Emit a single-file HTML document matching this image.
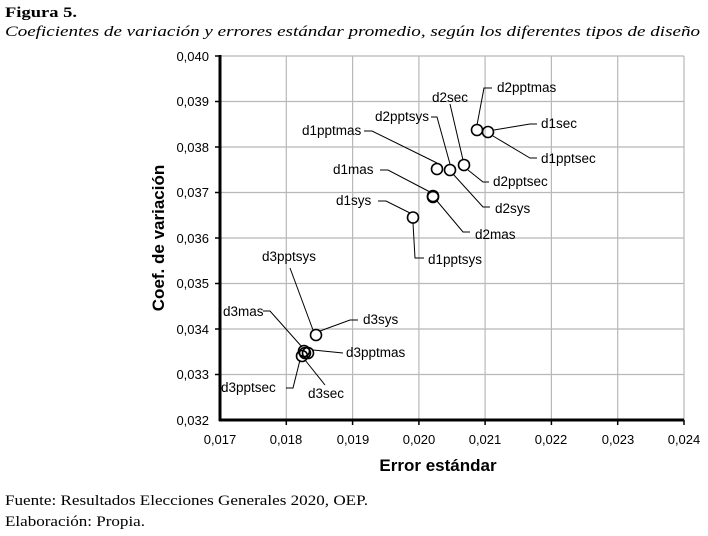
<!DOCTYPE html>
<html><head><meta charset="utf-8"><style>
body{margin:0;background:#fff;width:708px;height:536px;overflow:hidden}
svg{display:block}
</style></head><body>
<svg width="708" height="536" xmlns="http://www.w3.org/2000/svg">
<g font-family="Liberation Serif, serif" font-size="15" fill="#000">
<text x="5" y="17" font-weight="bold" textLength="72" lengthAdjust="spacingAndGlyphs">Figura 5.</text>
<text x="5" y="36" font-style="italic" textLength="695" lengthAdjust="spacingAndGlyphs">Coeficientes de variación y errores estándar promedio, según los diferentes tipos de diseño</text>
<text x="5" y="505" textLength="363" lengthAdjust="spacingAndGlyphs">Fuente: Resultados Elecciones Generales 2020, OEP.</text>
<text x="5" y="526" textLength="140" lengthAdjust="spacingAndGlyphs">Elaboración: Propia.</text>
</g>
<g stroke="#b8b8b8" stroke-width="1.2">
<line x1="220" y1="101.5" x2="684" y2="101.5"/><line x1="220" y1="147" x2="684" y2="147"/>
<line x1="220" y1="192.5" x2="684" y2="192.5"/><line x1="220" y1="238" x2="684" y2="238"/>
<line x1="220" y1="283.5" x2="684" y2="283.5"/><line x1="220" y1="329" x2="684" y2="329"/>
<line x1="220" y1="374.5" x2="684" y2="374.5"/><line x1="220" y1="56" x2="684" y2="56"/>
<line x1="286.3" y1="56" x2="286.3" y2="420"/><line x1="352.6" y1="56" x2="352.6" y2="420"/>
<line x1="418.9" y1="56" x2="418.9" y2="420"/><line x1="485.1" y1="56" x2="485.1" y2="420"/>
<line x1="551.4" y1="56" x2="551.4" y2="420"/><line x1="617.7" y1="56" x2="617.7" y2="420"/>
<line x1="684" y1="56" x2="684" y2="420"/>
</g>
<g stroke="#000" stroke-width="3"><line x1="220" y1="55" x2="220" y2="421"/><line x1="219" y1="420" x2="684" y2="420"/></g>
<g stroke="#000" stroke-width="1.5">
<line x1="215" y1="56" x2="220" y2="56"/><line x1="215" y1="101.5" x2="220" y2="101.5"/><line x1="215" y1="147" x2="220" y2="147"/><line x1="215" y1="192.5" x2="220" y2="192.5"/><line x1="215" y1="238" x2="220" y2="238"/><line x1="215" y1="283.5" x2="220" y2="283.5"/><line x1="215" y1="329" x2="220" y2="329"/><line x1="215" y1="374.5" x2="220" y2="374.5"/>
<line x1="286.3" y1="420" x2="286.3" y2="425"/><line x1="352.6" y1="420" x2="352.6" y2="425"/><line x1="418.9" y1="420" x2="418.9" y2="425"/><line x1="485.1" y1="420" x2="485.1" y2="425"/><line x1="551.4" y1="420" x2="551.4" y2="425"/><line x1="617.7" y1="420" x2="617.7" y2="425"/><line x1="684" y1="420" x2="684" y2="425"/>
</g>
<g font-family="Liberation Sans, sans-serif" font-size="13" fill="#000" text-anchor="end">
<text x="209" y="61">0,040</text><text x="209" y="106">0,039</text><text x="209" y="152">0,038</text><text x="209" y="197">0,037</text><text x="209" y="243">0,036</text><text x="209" y="288">0,035</text><text x="209" y="334">0,034</text><text x="209" y="379">0,033</text><text x="209" y="425">0,032</text>
</g>
<g font-family="Liberation Sans, sans-serif" font-size="13" fill="#000" text-anchor="middle">
<text x="220" y="444">0,017</text><text x="286" y="444">0,018</text><text x="353" y="444">0,019</text><text x="419" y="444">0,020</text><text x="485" y="444">0,021</text><text x="551" y="444">0,022</text><text x="618" y="444">0,023</text><text x="684" y="444">0,024</text>
</g>
<text x="438" y="471" font-family="Liberation Sans, sans-serif" font-size="17" font-weight="bold" text-anchor="middle">Error estándar</text>
<text transform="translate(164,238) rotate(-90)" font-family="Liberation Sans, sans-serif" font-size="17" font-weight="bold" text-anchor="middle">Coef. de variación</text>
<g stroke="#000" stroke-width="1" fill="none">
<polyline points="477,125 484,88 492,88"/>
<polyline points="450,104 463,160"/>
<polyline points="431,117 437,117 450,164"/>
<polyline points="364,131 372,131 437,163"/>
<polyline points="494,130 530,124 537,124"/>
<polyline points="493,136 530,158 537,158"/>
<polyline points="468,170 483,182 489,182"/>
<polyline points="380,170 388,170 430,192"/>
<polyline points="453,174 483,207 490,207"/>
<polyline points="378,201 386,201 410,213"/>
<polyline points="437,201 463,232 470,232"/>
<polyline points="413,223 415,258 424,258"/>
<polyline points="290,268 313,330"/>
<polyline points="320,331 350,320 358,320"/>
<polyline points="263,311 270,311 302,347"/>
<polyline points="313,350 343,353"/>
<polyline points="286,388 293,388 300,360"/>
<polyline points="305,360 325,385"/>
</g>
<g stroke="#000" stroke-width="1.6" fill="none">
<circle cx="477" cy="130" r="5.5"/><circle cx="488" cy="132" r="5.5"/><circle cx="464" cy="165" r="5.5"/>
<circle cx="437" cy="169" r="5.5"/><circle cx="450" cy="170" r="5.5"/>
<circle cx="433" cy="196" r="5.5"/><circle cx="433" cy="197" r="5.5"/>
<circle cx="413" cy="217.5" r="5.5"/>
<circle cx="316" cy="335" r="5.5"/><circle cx="304" cy="351" r="5.5"/><circle cx="308" cy="353" r="5.5"/><circle cx="302" cy="356" r="5.5"/><circle cx="305" cy="353" r="5.5"/>
</g>
<g font-family="Liberation Sans, sans-serif" font-size="13.5" fill="#000">
<text x="497" y="92">d2pptmas</text><text x="432" y="102">d2sec</text><text x="375" y="121">d2pptsys</text>
<text x="302" y="135">d1pptmas</text><text x="541" y="128">d1sec</text><text x="541" y="163">d1pptsec</text>
<text x="493" y="186">d2pptsec</text><text x="333" y="174">d1mas</text><text x="495" y="213">d2sys</text>
<text x="336" y="205">d1sys</text><text x="475" y="239">d2mas</text><text x="428" y="264">d1pptsys</text>
<text x="262" y="261">d3pptsys</text><text x="363" y="324">d3sys</text><text x="223" y="316">d3mas</text>
<text x="346" y="357">d3pptmas</text><text x="221" y="392">d3pptsec</text><text x="308" y="398">d3sec</text>
</g>
</svg>
</body></html>
